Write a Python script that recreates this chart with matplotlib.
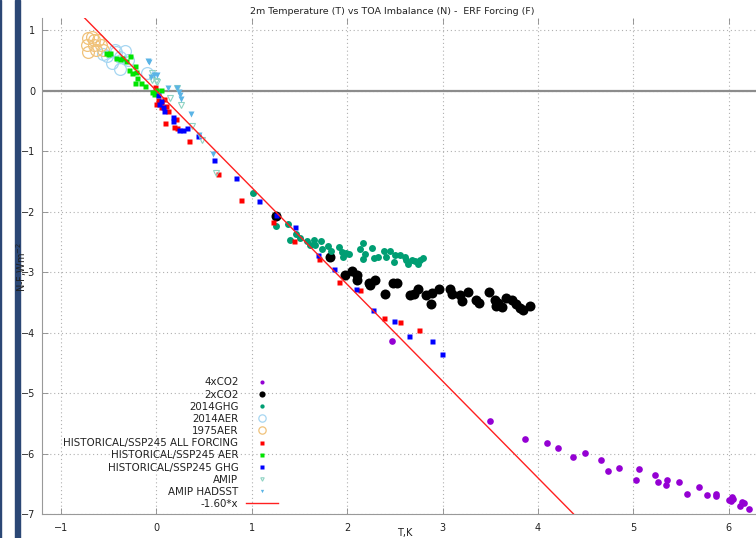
import matplotlib
matplotlib.use("Agg")
import matplotlib.pyplot as plt
import numpy as np
from matplotlib.patches import Rectangle

# ---------------- data ----------------
co2x4_T = [2.47, 3.50, 3.86, 4.09, 4.21, 4.37, 4.49, 4.66, 4.73, 4.85, 5.06, 5.03, 5.23, 5.26, 5.35,
           5.34, 5.48, 5.56, 5.69, 5.77, 5.86, 5.86, 6.00, 6.03, 6.02, 6.04, 6.14, 6.12, 6.16, 6.21]
co2x4_N = [-4.13, -5.45, -5.76, -5.82, -5.90, -6.05, -5.98, -6.11, -6.28, -6.24, -6.25, -6.43, -6.35, -6.46, -6.44,
           -6.51, -6.47, -6.67, -6.55, -6.68, -6.66, -6.69, -6.77, -6.72, -6.78, -6.75, -6.79, -6.86, -6.82, -6.92]

co2x2_T = [1.25, 1.82, 1.98, 2.05, 2.10, 2.10, 2.23, 2.24, 2.29, 2.40, 2.48, 2.52, 2.66, 2.70, 2.74, 2.82,
           2.88, 2.89, 2.96, 3.08, 3.10, 3.18, 3.20, 3.27, 3.35, 3.38, 3.49, 3.55, 3.56, 3.58, 3.62, 3.66,
           3.73, 3.77, 3.81, 3.84, 3.92]
co2x2_N = [-2.07, -2.74, -3.05, -2.98, -3.04, -3.13, -3.18, -3.21, -3.12, -3.35, -3.17, -3.18, -3.37, -3.35, -3.28, -3.37,
           -3.52, -3.34, -3.28, -3.28, -3.35, -3.38, -3.48, -3.33, -3.45, -3.50, -3.33, -3.45, -3.55, -3.50, -3.58, -3.42,
           -3.45, -3.52, -3.59, -3.63, -3.56]

ghg2014_T = [1.01, 1.25, 1.38, 1.40, 1.46, 1.50, 1.58, 1.61, 1.65, 1.66, 1.72, 1.73, 1.80, 1.83, 1.91, 1.94,
             1.96, 1.99, 2.02, 2.13, 2.16, 2.19, 2.17, 2.26, 2.28, 2.32, 2.39, 2.41, 2.45, 2.49, 2.50, 2.55,
             2.60, 2.62, 2.64, 2.68, 2.71, 2.74, 2.76, 2.79]
ghg2014_N = [-1.68, -2.24, -2.20, -2.46, -2.36, -2.43, -2.49, -2.54, -2.47, -2.54, -2.48, -2.62, -2.57, -2.64, -2.58, -2.67,
             -2.75, -2.68, -2.70, -2.62, -2.51, -2.69, -2.78, -2.60, -2.77, -2.74, -2.64, -2.74, -2.65, -2.83, -2.72, -2.72,
             -2.75, -2.80, -2.86, -2.79, -2.82, -2.87, -2.79, -2.76]

aer2014_T = [-0.56, -0.47, -0.38, -0.33, -0.44, -0.10, -0.38, -0.30, -0.52, -0.42]
aer2014_N = [0.61, 0.46, 0.36, 0.66, 0.67, 0.30, 0.56, 0.51, 0.58, 0.65]

aer1975_T = [-0.72, -0.68, -0.65, -0.73, -0.66, -0.72, -0.63, -0.58, -0.56, -0.61]
aer1975_N = [0.87, 0.89, 0.84, 0.76, 0.76, 0.65, 0.67, 0.76, 0.67, 0.84]

hall_T = [-0.02, -0.01, 0.02, 0.05, 0.05, 0.08, 0.10, 0.12, 0.09, 0.18, 0.20, 0.21, 0.34, 0.65, 0.89,
          1.22, 1.44, 1.70, 1.91, 2.13, 2.39, 2.55, 2.75]
hall_N = [0.06, -0.21, -0.15, -0.18, -0.27, -0.13, -0.25, -0.33, -0.53, -0.60, -0.46, -0.61, -0.83, -1.38, -1.81,
          -2.17, -2.48, -2.78, -3.16, -3.29, -3.75, -3.82, -3.96]

haer_T = [-0.51, -0.49, -0.38, -0.28, -0.29, -0.26, -0.23, -0.21, -0.20, -0.23, -0.16, -0.12, -0.05, -0.03,
          0.00, 0.05, -0.32, -0.42, -0.36, -0.53]
haer_N = [0.61, 0.63, 0.52, 0.57, 0.35, 0.29, 0.41, 0.31, 0.22, 0.13, 0.13, 0.08, -0.02, -0.05,
          0.01, 0.01, 0.49, 0.54, 0.54, 0.62]

hghg_T = [0.02, 0.03, 0.05, 0.07, 0.08, 0.17, 0.17, 0.24, 0.28, 0.32, 0.44, 0.60, 0.83, 1.07,
          1.25, 1.45, 1.69, 1.86, 2.09, 2.27, 2.49, 2.65, 2.89, 2.99]
hghg_N = [-0.07, -0.21, -0.17, -0.26, -0.34, -0.43, -0.50, -0.64, -0.64, -0.61, -0.75, -1.14, -1.44, -1.82,
          -2.06, -2.25, -2.72, -2.95, -3.27, -3.63, -3.81, -4.06, -4.14, -4.35]

amip_T = [-0.05, 0.00, 0.01, 0.14, 0.21, 0.26, 0.37, 0.48, 0.62, -0.05]
amip_N = [0.18, 0.17, 0.15, -0.12, 0.05, -0.24, -0.58, -0.82, -1.36, 0.29]

hadsst_T = [-0.09, -0.08, -0.06, -0.03, 0.01, 0.12, 0.22, 0.24, 0.25, 0.26, 0.36, 0.45, 0.59]
hadsst_N = [0.49, 0.47, 0.23, 0.26, 0.26, 0.05, 0.04, -0.02, -0.07, -0.13, -0.39, -0.73, -1.04]

fit_slope = -1.60
fit_label = "-1.60*x"

title = "2m Temperature (T) vs TOA Imbalance (N) -  ERF Forcing (F)"
xticks = [-1, 0, 1, 2, 3, 4, 5, 6]
yticks = [1, 0, -1, -2, -3, -4, -5, -6, -7]

# ---------------- figure ----------------
W, H = 756, 538
fig = plt.figure(figsize=(W / 100, H / 100), dpi=100)
plt.rcParams['font.family'] = ['DejaVu Sans']

ax_left, ax_bottom_px, ax_top_px = 42, 514.3, 18.3
xmin, xmax = -1.2, 6.5
ymin, ymax = -7.0, 1.2
px_per_x = 95.4
ax_w = (xmax - xmin) * px_per_x
ax = fig.add_axes([ax_left / W, (H - ax_bottom_px) / H, ax_w / W, (ax_bottom_px - ax_top_px) / H])
ax.set_xlim(xmin, xmax)
ax.set_ylim(ymin, ymax)

# left decorative border
fig.patches.append(Rectangle((15 / W, 0), 5 / W, 1, transform=fig.transFigure,
                             color='#2b4775', zorder=0))
fig.patches.append(Rectangle((0, 0), 1.2 / W, 1, transform=fig.transFigure,
                             color='#2b4775', zorder=0))

ax.grid(True, color='#b0b0b0', linestyle=(0, (1, 2.5)), linewidth=0.8)
ax.set_axisbelow(True)
ax.axhline(0, color='#8c8c8c', lw=1.6, zorder=1.5)

ax.plot(co2x4_T, co2x4_N, 'o', color='#9400d3', ms=4.8, mec='none', label='4xCO2', zorder=3)
ax.plot(co2x2_T, co2x2_N, 'o', color='black', ms=7.2, mec='none', label='2xCO2', zorder=3)
ax.plot(ghg2014_T, ghg2014_N, 'o', color='#009e73', ms=5.0, mec='none', label='2014GHG', zorder=3)
ax.plot(aer2014_T, aer2014_N, 'o', mfc='none', mec='#a6d6f2', mew=0.9, ms=8.5, label='2014AER', zorder=3)
ax.plot(aer1975_T, aer1975_N, 'o', mfc='none', mec='#f0c27a', mew=0.9, ms=8.5, label='1975AER', zorder=3)
ax.plot(hall_T, hall_N, 's', color='#ff0000', ms=3.6, mec='none', label='HISTORICAL/SSP245 ALL FORCING', zorder=3)
ax.plot(haer_T, haer_N, 's', color='#00e400', ms=3.6, mec='none', label='HISTORICAL/SSP245 AER', zorder=3)
ax.plot(hghg_T, hghg_N, 's', color='#0000ff', ms=3.6, mec='none', label='HISTORICAL/SSP245 GHG', zorder=3)
ax.plot(amip_T, amip_N, 'v', mfc='none', mec='#8fd3c3', mew=0.8, ms=4.0, label='AMIP', zorder=3)
ax.plot(hadsst_T, hadsst_N, 'v', color='#5ab4e6', ms=3.8, mec='none', label='AMIP HADSST', zorder=3)
xfit = np.array([xmin, xmax])
ax.plot(xfit, fit_slope * xfit, '-', color='#ff2020', lw=1.0, label=fit_label, zorder=4)

ax.set_xticks(xticks)
ax.set_yticks(yticks)
ax.tick_params(direction='in', length=4, width=0.6, color='#888888', labelsize=7,
               top=True, right=False, pad=5, labelcolor='#222222')
ax.tick_params(axis='x', pad=6)
for s in ['left', 'bottom']:
    ax.spines[s].set_color('#999999')
    ax.spines[s].set_linewidth(0.8)
ax.spines['top'].set_visible(False)
ax.spines['right'].set_visible(False)

leg = ax.legend(loc='lower right', bbox_to_anchor=(278 / W, (H - 509) / H),
                bbox_transform=fig.transFigure, frameon=False, fontsize=7.4,
                markerfirst=False, handlelength=3.1, handletextpad=0.75,
                labelspacing=0.21, borderpad=0, borderaxespad=0, numpoints=1)
for t in leg.get_texts():
    t.set_color('#222222')
for h in leg.legend_handles:
    ms = h.get_markersize()
    if h.get_marker() not in (None, 'None', ''):
        h.set_markersize(ms * 0.62)

fig.text(392 / W, 1 - 11 / H, title, ha='center', va='center', fontsize=6.8, color='#222222')
fig.text(405 / W, 1 - 533 / H, 'T,K', ha='center', va='center', fontsize=7, color='#222222')
fig.text(22 / W, 1 - 267 / H, 'N-F,Wm$^{-2}$', ha='center', va='center', rotation=90,
         fontsize=7, color='#222222')

fig.savefig('out.png', dpi=100)
